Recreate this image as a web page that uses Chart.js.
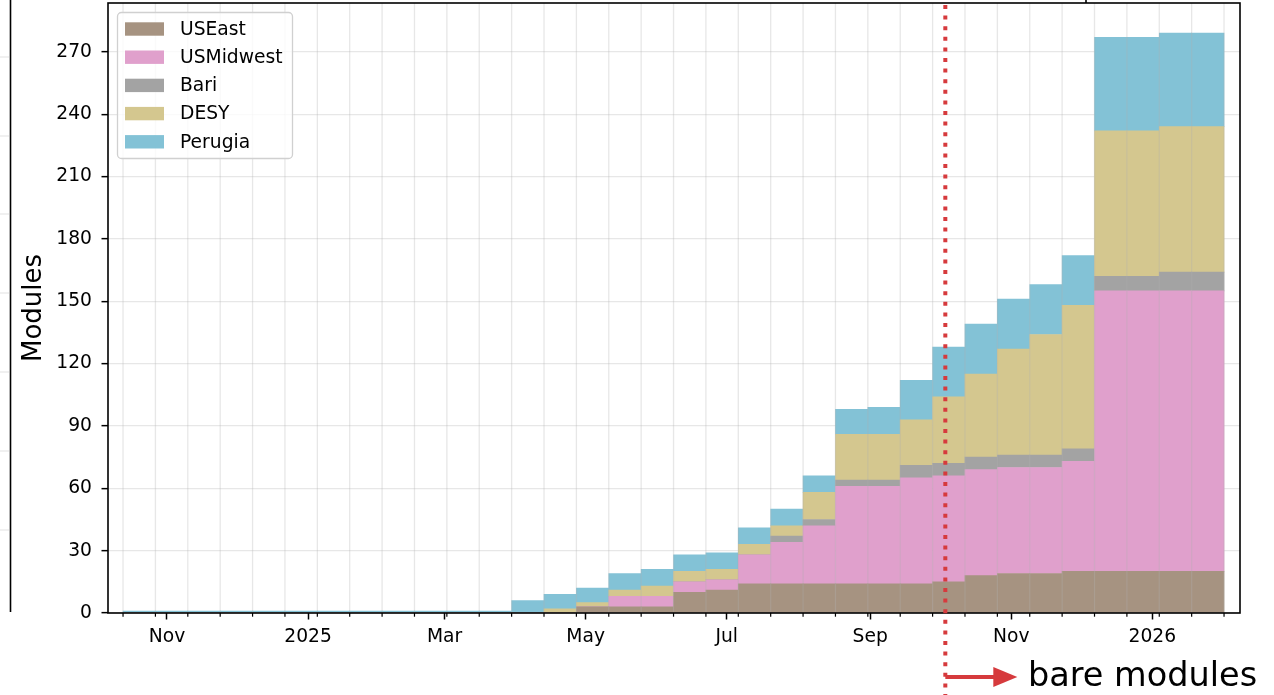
<!DOCTYPE html>
<html>
<head>
<meta charset="utf-8">
<script src="https://cdn.jsdelivr.net/npm/chart.js@4.4.1/dist/chart.umd.min.js"></script>
<style>
    html, body { margin: 0; padding: 0; background: #fff; }
    #wrap { width: 1274px; height: 695px; }
</style>
</head>
<body>
<div id="wrap"><canvas id="modulesChart" width="1274" height="695"></canvas></div>
<script>
// Cumulative module counts per site, two-week bins
const binStarts = [
    '2024-10-13', '2024-10-27', '2024-11-10', '2024-11-24', '2024-12-08', '2024-12-22',
    '2025-01-05', '2025-01-19', '2025-02-02', '2025-02-16', '2025-03-02', '2025-03-16',
    '2025-03-30', '2025-04-13', '2025-04-27', '2025-05-11', '2025-05-25', '2025-06-08',
    '2025-06-22', '2025-07-06', '2025-07-20', '2025-08-03', '2025-08-17', '2025-08-31',
    '2025-09-14', '2025-09-28', '2025-10-12', '2025-10-26', '2025-11-09', '2025-11-23',
    '2025-12-07', '2025-12-21', '2026-01-04', '2026-01-18'
];
const binDays = 14;

const usEast    = [0,0,0,0,0,0,0,0,0,0,0,0, 0,0,3,3,3,10,11,14,14,14,14,14,14,15,18,19,19,20,20,20,20,20];
const usMidwest = [0,0,0,0,0,0,0,0,0,0,0,0, 0,0,0,5,5,5,5,14,20,28,47,47,51,51,51,51,51,53,135,135,135,135];
const bari      = [0,0,0,0,0,0,0,0,0,0,0,0, 0,0,0,0,0,0,0,0,3,3,3,3,6,6,6,6,6,6,7,7,9,9];
const desy      = [0,0,0,0,0,0,0,0,0,0,0,0, 0,2,2,3,5,5,5,5,5,13,22,22,22,32,40,51,58,69,70,70,70,70];
const perugia   = [0,0,0,0,0,0,0,0,0,0,0,0, 6,7,7,8,8,8,8,8,8,8,12,13,19,24,24,24,24,24,45,45,45,45];

const monthTicks  = ['2024-11-01', '2025-01-01', '2025-03-01', '2025-05-01', '2025-07-01', '2025-09-01', '2025-11-01', '2026-01-01'];
const monthLabels = ['Nov', '2025', 'Mar', 'May', 'Jul', 'Sep', 'Nov', '2026'];
const yTicks = [0, 30, 60, 90, 120, 150, 180, 210, 240, 270];

const bareModulesDate = '2025-10-03T12:00:00Z';

// days since the first tick date, used as the linear x value
const refTime = Date.parse('2024-11-01T00:00:00Z');
const toDay = s => (Date.parse(s.length === 10 ? s + 'T00:00:00Z' : s) - refTime) / 864e5;

const binStartDays = binStarts.map(toDay);
const binCenters = binStartDays.map(d => d + binDays / 2);
const binEdges = binStartDays.concat([binStartDays[binStartDays.length - 1] + binDays]);

const FONT = '"DejaVu Sans", "Liberation Sans", sans-serif';
const RED = '#d63a3d';
const GRID = 'rgba(176,176,176,0.3)';

const series = [
    { label: 'USEast',    values: usEast,    color: '#a69381' },
    { label: 'USMidwest', values: usMidwest, color: '#e0a0cc' },
    { label: 'Bari',      values: bari,      color: '#a3a3a3' },
    { label: 'DESY',      values: desy,      color: '#d4c78f' },
    { label: 'Perugia',   values: perugia,   color: '#83c2d6' }
];

const decorPlugin = {
    id: 'decor',
    afterDatasetsDraw(chart) {
        const { ctx, chartArea: a, scales: { x } } = chart;
        ctx.save();
        ctx.strokeStyle = GRID;
        ctx.lineWidth = 1.3;
        binEdges.forEach(d => {
            const px = x.getPixelForValue(d);
            ctx.beginPath();
            ctx.moveTo(px, a.top);
            ctx.lineTo(px, a.bottom);
            ctx.stroke();
        });
        ctx.restore();
    },
    afterDraw(chart) {
        const { ctx, chartArea: a, scales: { x } } = chart;
        ctx.save();

        // minor ticks at bin edges
        ctx.strokeStyle = '#000';
        ctx.lineWidth = 1.2;
        binEdges.forEach(d => {
            const px = x.getPixelForValue(d);
            ctx.beginPath();
            ctx.moveTo(px, a.bottom);
            ctx.lineTo(px, a.bottom + 3.7);
            ctx.stroke();
        });

        // axes frame
        ctx.lineWidth = 1.6;
        ctx.strokeRect(a.left, a.top, a.right - a.left, a.bottom - a.top);

        // fragments of the neighbouring panels
        ctx.beginPath();
        ctx.moveTo(10.5, 0);
        ctx.lineTo(10.5, 612);
        ctx.moveTo(1086, 0);
        ctx.lineTo(1086, a.top);
        ctx.stroke();
        ctx.strokeStyle = GRID;
        ctx.lineWidth = 1.3;
        [57, 136, 214, 293, 372, 451, 530].forEach(y => {
            ctx.beginPath();
            ctx.moveTo(0, y);
            ctx.lineTo(9.5, y);
            ctx.stroke();
        });

        // bare modules marker
        const rx = x.getPixelForValue(toDay(bareModulesDate));
        ctx.strokeStyle = RED;
        ctx.lineWidth = 4;
        ctx.setLineDash([4, 6.6]);
        ctx.beginPath();
        ctx.moveTo(rx, a.top + 2);
        ctx.lineTo(rx, chart.height);
        ctx.stroke();
        ctx.setLineDash([]);
        ctx.beginPath();
        ctx.moveTo(rx, 677);
        ctx.lineTo(rx + 52, 677);
        ctx.stroke();
        ctx.fillStyle = RED;
        ctx.beginPath();
        ctx.moveTo(rx + 72, 677);
        ctx.lineTo(rx + 48, 667);
        ctx.lineTo(rx + 48, 687);
        ctx.closePath();
        ctx.fill();
        ctx.fillStyle = '#000';
        ctx.font = '33.5px ' + FONT;
        ctx.textAlign = 'left';
        ctx.textBaseline = 'alphabetic';
        ctx.fillText('bare modules', 1028, 686);

        // legend box
        const lx = 117.5, ly = 12.5, lw = 175, lh = 146;
        ctx.fillStyle = 'rgba(255,255,255,0.8)';
        ctx.strokeStyle = '#d0d0d0';
        ctx.lineWidth = 1.3;
        ctx.beginPath();
        ctx.roundRect(lx, ly, lw, lh, 4);
        ctx.fill();
        ctx.stroke();
        ctx.font = '18.7px ' + FONT;
        ctx.textBaseline = 'middle';
        chart.data.datasets.forEach((ds, i) => {
            const cy = 29 + i * 28.2;
            ctx.fillStyle = ds.backgroundColor;
            ctx.fillRect(125, cy - 6.7, 39, 13.4);
            ctx.fillStyle = '#000';
            ctx.fillText(ds.label, 180, cy + 1);
        });
        ctx.restore();
    }
};

new Chart(document.getElementById('modulesChart'), {
    type: 'bar',
    data: {
        datasets: series.map(s => ({
            label: s.label,
            data: s.values.map((v, i) => ({ x: binCenters[i], y: v })),
            backgroundColor: s.color,
            borderWidth: 0,
            barPercentage: 1,
            categoryPercentage: 1,
            minBarLength: s.label === 'Perugia' ? 2 : 0
        }))
    },
    options: {
        responsive: false,
        devicePixelRatio: 1,
        animation: false,
        layout: { padding: { top: 3, right: 34, left: 0, bottom: 0 } },
        plugins: {
            legend: { display: false },
            tooltip: { enabled: false }
        },
        scales: {
            x: {
                type: 'linear',
                stacked: true,
                offset: false,
                min: -25.5,
                max: 463.9,
                afterBuildTicks: scale => { scale.ticks = monthTicks.map(m => ({ value: toDay(m) })); },
                afterFit: scale => {
                    scale.height = 82;
                    scale.paddingLeft = 0;
                    scale.paddingRight = 0;
                },
                grid: { offset: false, drawOnChartArea: false, tickLength: 6.5, tickWidth: 1.5, tickColor: '#000' },
                border: { display: false },
                ticks: {
                    autoSkip: false,
                    maxRotation: 0,
                    padding: 6,
                    color: '#000',
                    font: { family: FONT, size: 18.7 },
                    callback: (value, index) => monthLabels[index]
                }
            },
            y: {
                stacked: true,
                min: 0,
                max: 293.5,
                z: 1,
                afterBuildTicks: scale => { scale.ticks = yTicks.map(v => ({ value: v })); },
                afterFit: scale => {
                    scale.width = 108;
                    scale.paddingTop = 0;
                    scale.paddingBottom = 0;
                },
                grid: { color: GRID, lineWidth: 1.3, tickLength: 6.5, tickWidth: 1.5, tickColor: '#000' },
                border: { display: false },
                ticks: {
                    padding: 9.5,
                    color: '#000',
                    font: { family: FONT, size: 18.7 }
                },
                title: {
                    display: true,
                    text: 'Modules',
                    color: '#000',
                    font: { family: FONT, size: 26 },
                    padding: { top: 19, bottom: 0 }
                }
            }
        }
    },
    plugins: [decorPlugin]
});
</script>
</body>
</html>
